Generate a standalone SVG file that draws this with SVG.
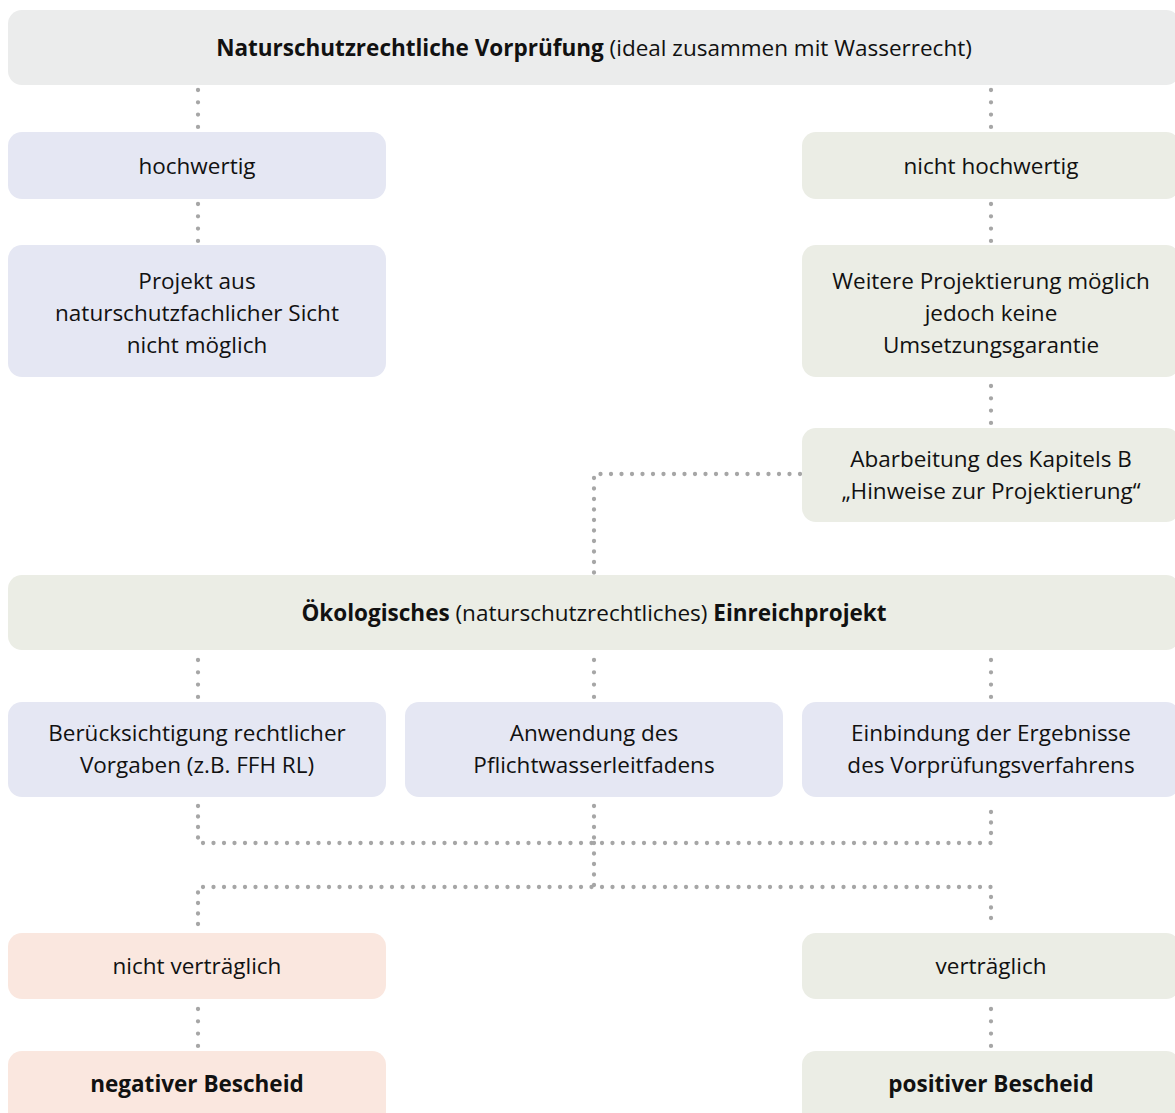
<svg xmlns="http://www.w3.org/2000/svg" width="1175" height="1113" viewBox="0 0 1175 1113">
<style>
  .box{stroke:none}
  .gray{fill:#ebecec}
  .blue{fill:#e5e7f3}
  .green{fill:#ebede5}
  .pink{fill:#fae7df}
  text{font-family:"Open Sans","Noto Sans","Liberation Sans",sans-serif;font-size:22.5px;fill:#111;text-anchor:middle}
  .b{font-weight:bold}
  .dots{fill:none;stroke:#a6a6a6;stroke-width:4.3;stroke-linecap:round;stroke-dasharray:0 10.5}
  .dshort{fill:none;stroke:#a6a6a6;stroke-width:4.3;stroke-linecap:round;stroke-dasharray:0 12.3}
</style>
<rect width="1175" height="1113" fill="#ffffff"/>
<g id="connectors">
  <path class="dshort" d="M198 90V127"/>
  <path class="dshort" d="M991 90V127"/>
  <path class="dshort" d="M198 204V241"/>
  <path class="dshort" d="M991 204V241"/>
  <path class="dshort" d="M991 386V423"/>
  <path class="dots" d="M800 474H594V574"/>
  <path class="dshort" d="M198 660V697"/>
  <path class="dshort" d="M594 660V697"/>
  <path class="dshort" d="M991 660V697"/>
  <path class="dots" d="M198 806V843H991V806"/>
  <path class="dots" d="M594 806V843"/>
  <path class="dots" d="M594 843V887"/>
  <path class="dots" d="M198 924V887H991V924"/>
  <path class="dshort" d="M198 1009V1046"/>
  <path class="dshort" d="M991 1009V1046"/>
</g>
<g id="n-vorpruefung">
  <rect class="box gray" x="8" y="10" width="1172" height="75" rx="14"/>
  <text x="594" y="56"><tspan class="b">Naturschutzrechtliche Vorprüfung</tspan> (ideal zusammen mit Wasserrecht)</text>
</g>
<g id="n-hochwertig">
  <rect class="box blue" x="8" y="132" width="378" height="67" rx="14"/>
  <text x="197" y="174">hochwertig</text>
</g>
<g id="n-nicht-hochwertig">
  <rect class="box green" x="802" y="132" width="378" height="67" rx="14"/>
  <text x="991" y="174">nicht hochwertig</text>
</g>
<g id="n-nicht-moeglich">
  <rect class="box blue" x="8" y="245" width="378" height="132" rx="14"/>
  <text x="197" y="289">Projekt aus</text>
  <text x="197" y="321">naturschutzfachlicher Sicht</text>
  <text x="197" y="353">nicht möglich</text>
</g>
<g id="n-weitere">
  <rect class="box green" x="802" y="245" width="378" height="132" rx="14"/>
  <text x="991" y="289">Weitere Projektierung möglich</text>
  <text x="991" y="321">jedoch keine</text>
  <text x="991" y="353">Umsetzungsgarantie</text>
</g>
<g id="n-abarbeitung">
  <rect class="box green" x="802" y="428" width="378" height="94" rx="14"/>
  <text x="991" y="467">Abarbeitung des Kapitels B</text>
  <text x="991" y="499">„Hinweise zur Projektierung“</text>
</g>
<g id="n-einreichprojekt">
  <rect class="box green" x="8" y="575" width="1172" height="75" rx="14"/>
  <text x="594" y="621"><tspan class="b">Ökologisches</tspan> (naturschutzrechtliches) <tspan class="b">Einreichprojekt</tspan></text>
</g>
<g id="n-rechtlich">
  <rect class="box blue" x="8" y="702" width="378" height="95" rx="14"/>
  <text x="197" y="741">Berücksichtigung rechtlicher</text>
  <text x="197" y="773">Vorgaben (z.B. FFH RL)</text>
</g>
<g id="n-pflichtwasser">
  <rect class="box blue" x="405" y="702" width="378" height="95" rx="14"/>
  <text x="594" y="741">Anwendung des</text>
  <text x="594" y="773">Pflichtwasserleitfadens</text>
</g>
<g id="n-ergebnisse">
  <rect class="box blue" x="802" y="702" width="378" height="95" rx="14"/>
  <text x="991" y="741">Einbindung der Ergebnisse</text>
  <text x="991" y="773">des Vorprüfungsverfahrens</text>
</g>
<g id="n-nicht-vertraeglich">
  <rect class="box pink" x="8" y="933" width="378" height="66" rx="14"/>
  <text x="197" y="974">nicht verträglich</text>
</g>
<g id="n-vertraeglich">
  <rect class="box green" x="802" y="933" width="378" height="66" rx="14"/>
  <text x="991" y="974">verträglich</text>
</g>
<g id="n-negativ">
  <rect class="box pink" x="8" y="1051" width="378" height="80" rx="14"/>
  <text class="b" x="197" y="1092">negativer Bescheid</text>
</g>
<g id="n-positiv">
  <rect class="box green" x="802" y="1051" width="378" height="80" rx="14"/>
  <text class="b" x="991" y="1092">positiver Bescheid</text>
</g>
</svg>
